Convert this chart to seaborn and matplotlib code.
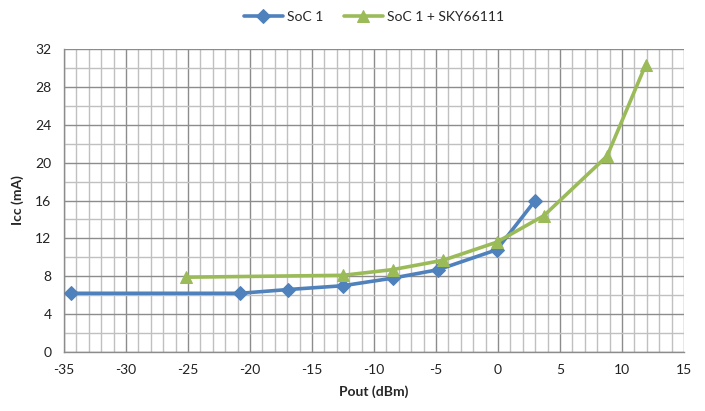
import matplotlib
matplotlib.use("Agg")
import matplotlib.pyplot as plt
import seaborn as sns
import pandas as pd
from matplotlib.ticker import MultipleLocator

soc_x = [-34.4, -20.8, -16.9, -12.5, -8.5, -4.8, -0.1, 3.0]
soc_y = [6.2, 6.2, 6.6, 7.0, 7.8, 8.7, 10.8, 16.0]
sky_x = [-25.2, -12.5, -8.5, -4.4, -0.1, 3.7, 8.8, 11.9]
sky_y = [7.9, 8.1, 8.7, 9.7, 11.6, 14.4, 20.7, 30.3]
series_names = ["SoC 1", "SoC 1 + SKY66111"]
colors = ["#4F81BD", "#9BBB59"]
markers = ["D", "^"]

df = pd.concat([
    pd.DataFrame({"x": soc_x, "y": soc_y, "s": series_names[0]}),
    pd.DataFrame({"x": sky_x, "y": sky_y, "s": series_names[1]}),
])

sns.set_style("white")
plt.rcParams["font.family"] = ["Lato", "DejaVu Sans"]
plt.rcParams["axes.unicode_minus"] = False

fig = plt.figure(figsize=(7.05, 4.11), dpi=100)
ax = fig.add_axes([64/705, 1-352/411, (684-64)/705, (352-49)/411])

for name, c, m in zip(series_names, colors, markers):
    sub = df[df["s"] == name]
    sns.lineplot(data=sub, x="x", y="y", ax=ax, color=c, marker=m, lw=2.6,
                 markersize=7 if m == "D" else 9, markeredgecolor=c,
                 label=name, sort=False, zorder=3)

ax.set_xlim(-35, 15)
ax.set_ylim(0, 32)
ax.xaxis.set_major_locator(MultipleLocator(5))
ax.xaxis.set_minor_locator(MultipleLocator(1))
ax.yaxis.set_major_locator(MultipleLocator(4))
ax.yaxis.set_minor_locator(MultipleLocator(2))
ax.grid(which="major", color="#8c8c8c", lw=1.0)
ax.grid(which="minor", color="#c0c0c0", lw=1.0)
ax.set_axisbelow(True)
for s in ["top", "right"]:
    ax.spines[s].set_visible(False)
for s in ["left", "bottom"]:
    ax.spines[s].set_color("#8c8c8c")
    ax.spines[s].set_linewidth(1.0)
ax.tick_params(which="major", direction="out", length=5, color="#8c8c8c",
               labelsize=10, labelcolor="#222222", pad=4)
ax.tick_params(which="minor", length=0)
ax.set_xlabel("Pout (dBm)", fontsize=10, fontweight="bold", labelpad=6)
ax.set_ylabel("Icc (mA)", fontsize=10, fontweight="bold", labelpad=8)

ax.legend(loc="center", bbox_to_anchor=(0.5, 1 + (49-17)/303), ncol=2, frameon=False,
          fontsize=10, handlelength=2.8, columnspacing=1.5, handletextpad=0.3)

fig.savefig("out.png", dpi=100)
